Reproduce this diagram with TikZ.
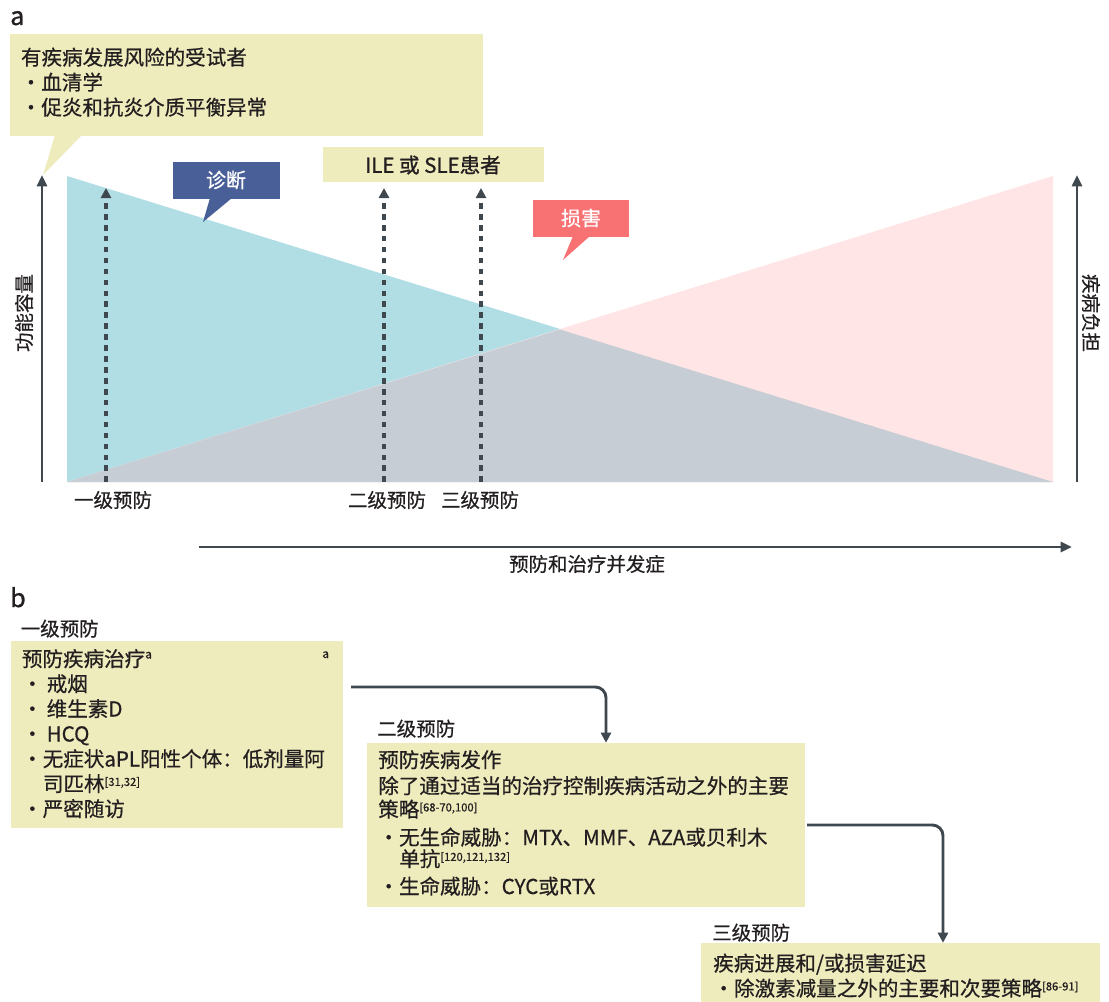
\documentclass[tikz,border=0pt]{standalone}
\usepackage{fontspec}
\setmainfont{Noto Sans CJK SC}[RawFeature={embolden=0.6}]
\newfontfamily\semibold[FakeBold=1.1]{Noto Sans CJK SC}
\usetikzlibrary{arrows.meta,fit}
\definecolor{callout}{RGB}{238,235,189}
\definecolor{diagblue}{RGB}{72,95,152}
\definecolor{dmgpink}{RGB}{248,114,116}
\definecolor{tricyan}{RGB}{177,221,229}
\definecolor{tripink}{RGB}{255,229,229}
\definecolor{trigray}{RGB}{198,205,212}
\definecolor{arrowgray}{RGB}{62,72,78}
\definecolor{txt}{RGB}{35,31,32}
\newcommand\bul{\makebox[15.6pt][c]{•}}
\newcommand\refsup[1]{\raisebox{4.2pt}{\fontsize{8.4pt}{9pt}\selectfont #1}}
\newcommand\supa{\raisebox{6pt}{\fontsize{9pt}{9pt}\selectfont a}}
\begin{document}
\begin{tikzpicture}[x=0.75pt,y=-0.75pt,
  line/.style={inner sep=0,anchor=base west,text=txt,font=\fontsize{15.4pt}{18pt}\selectfont},
  lbl/.style={inner sep=0,text=txt,font=\fontsize{14.6pt}{17pt}\selectfont},
  panel/.style={inner sep=0,anchor=base west,text=txt,font=\fontsize{18.75pt}{20pt}\semibold},
  boxfill/.style={fill=callout,draw=none,inner sep=0},
  tagbox/.style={inner sep=0,text=white,font=\fontsize{15pt}{18pt}\selectfont},
  axisarrow/.style={draw=arrowgray,line width=2pt,-{Triangle[width=7.5pt,length=8.5pt]}},
  dasharrow/.style={draw=arrowgray,line width=2.3pt,dash pattern=on 4.2pt off 4pt,-{Triangle[width=7.5pt,length=7.5pt]}},
  flowarrow/.style={draw=arrowgray,line width=2.2pt,rounded corners=8pt,-{Triangle[width=7.5pt,length=7.5pt]}}
]
\useasboundingbox (0,0) rectangle (1109,1002);

% ---------- panel a ----------
\node[panel] (pa) at (10,25) {a};

% triangles
\fill[tricyan] (67,176) -- (67,482) -- (1053,482) -- cycle;
\fill[tripink] (67,482) -- (1053,176) -- (1053,482) -- cycle;
\fill[trigray] (67,482) -- (560,329.5) -- (1053,482) -- cycle;

% callout
\node[boxfill,fit={(10,34) (483,136)}] (riskbox) {};
\fill[callout] (55,135) -- (43,175) -- (82,135) -- cycle;
\node[line] (r1) at (20.7,65) {有疾病发展风险的受试者};
\node[line] (r2) at (20.3,90) {\bul 血清学};
\node[line] (r3) at (20.3,115) {\bul 促炎和抗炎介质平衡异常};

% ILE box
\node[boxfill,fit={(323,147) (544,182)}] (ilebox) {};
\node[lbl,font=\fontsize{15.4pt}{18pt}\semibold] (iletxt) at (433,165) {ILE 或 SLE患者};

% diagnosis tag
\node[fill=diagblue,inner sep=0,fit={(173,162) (280,199)}] (diagbox) {};
\fill[diagblue] (210,198) -- (203,222) -- (232,198) -- cycle;
\node[tagbox] (diagtxt) at (226,180) {诊断};

% damage tag
\node[fill=dmgpink,inner sep=0,fit={(533,200) (629,237)}] (dmgbox) {};
\fill[dmgpink] (573,236) -- (563,260) -- (590,236) -- cycle;
\node[tagbox] (dmgtxt) at (581,218) {损害};

% axes
\coordinate (laxb) at (42,482);
\coordinate (laxt) at (42,175);
\coordinate (raxb) at (1077,482);
\coordinate (raxt) at (1077,175);
\draw[axisarrow] (laxb) -- (laxt);
\draw[axisarrow] (raxb) -- (raxt);
\node[lbl,rotate=90] (laxlbl) at (24,313) {功能容量};
\node[lbl,rotate=-90] (raxlbl) at (1091,313) {疾病负担};

% dashed arrows
\coordinate (d1b) at (106,482); \coordinate (d1t) at (106,188);
\coordinate (d2b) at (384,482); \coordinate (d2t) at (384,188);
\coordinate (d3b) at (481,482); \coordinate (d3t) at (481,188);
\draw[dasharrow] (d1b) -- (d1t);
\draw[dasharrow] (d2b) -- (d2t);
\draw[dasharrow] (d3b) -- (d3t);

\node[lbl] (p1) at (113,500) {一级预防};
\node[lbl] (p2) at (387,500) {二级预防};
\node[lbl] (p3) at (480,500) {三级预防};

% horizontal arrow
\coordinate (hs) at (199,547);
\coordinate (he) at (1072,547);
\draw[axisarrow,line width=2.2pt] (hs) -- (he);
\node[lbl] (hlbl) at (587,564) {预防和治疗并发症};

% ---------- panel b ----------
\node[panel] (pb) at (10,607) {b};

% primary
\node[lbl,anchor=base west] (l1) at (20.5,636) {一级预防};
\node[boxfill,fit={(11,641) (343,828)}] (box1) {};
\node[line] (b1a) at (21.7,666.5) {预防疾病治疗\supa};
\node[inner sep=0,anchor=base west,text=txt,font=\fontsize{9pt}{9pt}\selectfont] (b1sup) at (322,658) {a};
\node[line] (b1b) at (21.7,691.5) {\bul\hspace{3pt}戒烟};
\node[line] (b1c) at (21.7,716.5) {\bul\hspace{3pt}维生素D};
\node[line] (b1d) at (21.7,741.5) {\bul\hspace{3pt}HCQ};
\node[line] (b1e) at (21.7,766.5) {\bul 无症状aPL阳性个体：低剂量阿};
\node[line] (b1f) at (42.7,791.5) {司匹林\refsup{[31,32]}};
\node[line] (b1g) at (21.7,816.5) {\bul 严密随访};

% secondary
\node[lbl,anchor=base west] (l2) at (377,736) {二级预防};
\node[boxfill,fit={(367,743) (805,907)}] (box2) {};
\node[line] (b2a) at (378,767.5) {预防疾病发作};
\node[line] (b2b) at (378,793.5) {除了通过适当的治疗控制疾病活动之外的主要};
\node[line] (b2c) at (378,817) {策略\refsup{[68-70,100]}};
\node[line] (b2d) at (378,845) {\bul 无生命威胁：MTX、MMF、AZA或贝利木};
\node[line] (b2e) at (399,866.5) {单抗\refsup{[120,121,132]}};
\node[line] (b2f) at (378,894) {\bul 生命威胁：CYC或RTX};

% tertiary
\node[lbl,anchor=base west] (l3) at (712,940) {三级预防};
\node[boxfill,fit={(701,943) (1100,1002)}] (box3) {};
\node[line] (b3a) at (713,971) {疾病进展和/或损害延迟};
\node[line] (b3b) at (713,996) {\bul 除激素减量之外的主要和次要策略\refsup{[86-91]}};

% connectors
\coordinate (c1s) at (351,687);
\coordinate (c1e) at (box2.north -| 606,0);
\draw[flowarrow] (c1s) -| (c1e);
\coordinate (c2s) at (807,825);
\coordinate (c2e) at (box3.north -| 943,0);
\draw[flowarrow] (c2s) -| (c2e);
\end{tikzpicture}
\end{document}
